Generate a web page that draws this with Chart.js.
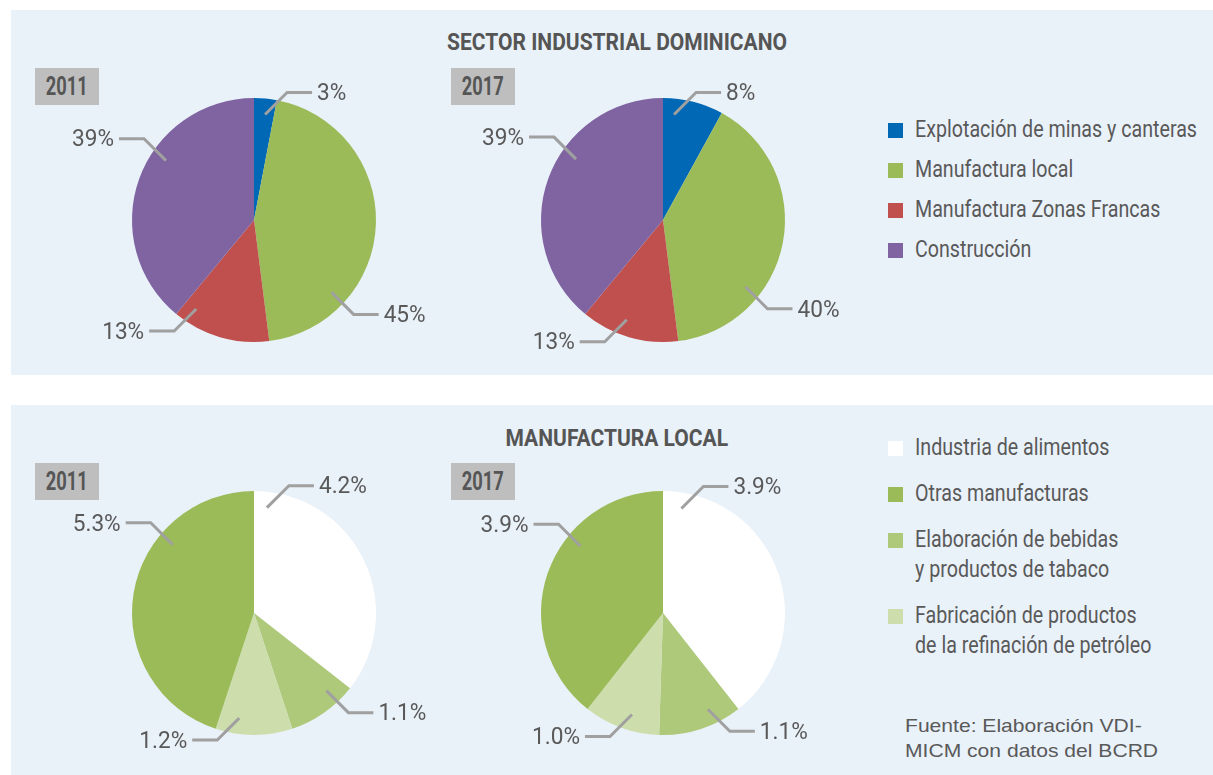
<!DOCTYPE html>
<html>
<head>
<meta charset="utf-8">
<script src="https://cdn.jsdelivr.net/npm/chart.js@4.4.1/dist/chart.umd.min.js"></script>
<style>
  body { margin: 0; width: 1213px; height: 775px; background: #fff; position: relative; overflow: hidden;
         font-family: Roboto, sans-serif; color: #595959; }
  .panel { position: absolute; left: 11px; width: 1202px; background: #e9f1f9; }
  .title { position: absolute; left: 0; width: 1234px; text-align: center; font-weight: bold; font-size: 23px;
           color: #555; white-space: nowrap; }
  .title span, .year span { display: inline-block; }
  .year { position: absolute; width: 64px; height: 37px; background: #bebebf; color: #555; font-weight: bold;
          font-size: 25px; line-height: 38px; text-align: center; }
  canvas { position: absolute; }
  .legend { position: absolute; left: 888px; display: flex; flex-direction: column; }
  .legend .item { display: flex; align-items: flex-start; font-size: 23px; white-space: nowrap; }
  .legend .sw { width: 15px; height: 15px; flex: none; margin-right: 12px; }
  .legend .txt { display: inline-block; transform-origin: 0 50%; }
  .source { position: absolute; left: 905px; top: 713px; font-family: "Liberation Sans", Arial, sans-serif;
            font-size: 19px; line-height: 25px; color: #595959; white-space: nowrap; transform-origin: 0 0; }
</style>
</head>
<body>
<div class="panel" style="top:10px;height:365px"></div>
<div class="panel" style="top:405px;height:370px"></div>

<div class="title" style="top:29px"><span>SECTOR INDUSTRIAL DOMINICANO</span></div>
<div class="title" style="top:425px"><span>MANUFACTURA LOCAL</span></div>

<div class="year" style="left:35px;top:68px"><span>2011</span></div>
<div class="year" style="left:451px;top:68px"><span>2017</span></div>
<div class="year" style="left:35px;top:463px"><span>2011</span></div>
<div class="year" style="left:451px;top:463px"><span>2017</span></div>

<canvas id="sector2011" width="400" height="300" style="left:54px;top:70px"></canvas>
<canvas id="sector2017" width="400" height="300" style="left:463px;top:70px"></canvas>
<canvas id="manuf2011" width="400" height="300" style="left:54px;top:463px"></canvas>
<canvas id="manuf2017" width="400" height="300" style="left:463px;top:463px"></canvas>

<div class="legend" id="sectorLegend" style="top:117px;gap:14px"></div>
<div class="legend" id="manufLegend" style="top:433px;gap:16px"></div>

<div class="source" id="source">Fuente: Elaboración VDI-<br>MICM con datos del BCRD</div>

<script>
// Sector industrial (pie order, clockwise from top)
const sectorLabels = ['Explotación de minas y canteras', 'Manufactura local', 'Manufactura Zonas Francas', 'Construcción'];
const sector2011 = [3, 45, 13, 39];
const sector2017 = [8, 40, 13, 39];
const sectorColors = ['#0068b4', '#9bbb59', '#c0504d', '#8064a2'];

// Manufactura local (pie order, clockwise from top)
const manufLabels = ['Industria de alimentos',
  ['Elaboración de bebidas', 'y productos de tabaco'],
  ['Fabricación de productos', 'de la refinación de petróleo'],
  'Otras manufacturas'];
const manuf2011 = [4.2, 1.1, 1.2, 5.3];
const manuf2017 = [3.9, 1.1, 1.0, 3.9];
const manufColors = ['#ffffff', '#afc97a', '#cddeac', '#9bbb59'];
const manufLegendOrder = [0, 3, 1, 2];

// where each leader line starts (degrees clockwise from 12 o'clock)
const leaderAngles = {
  sector2011: [6, 133, 213, 304],
  sector2017: [6, 129, 200, 305],
  manuf2011: [7, 137, 188, 310],
  manuf2017: [10, 155, 197, 309]
};

// the original uses a condensed face; squeeze Roboto to the same widths
const measure = document.createElement('canvas').getContext('2d');
function textWidth(t, font) {
  measure.font = font;
  return measure.measureText(t).width;
}
const LABEL_FONT = '23px Roboto';
const labelSqueeze = 42 / textWidth('45%', LABEL_FONT);
const legendSqueeze = 282 / textWidth('Explotación de minas y canteras', '23px Roboto');
const titleSqueeze = 340 / textWidth('SECTOR INDUSTRIAL DOMINICANO', 'bold 23px Roboto');
const yearSqueeze = 42 / textWidth('2011', 'bold 25px Roboto');

// Leader-line labels like the Excel original
const leaderPlugin = {
  id: 'leader',
  afterDraw(chart, args, opts) {
    const ctx = chart.ctx;
    const meta = chart.getDatasetMeta(0);
    const vals = chart.data.datasets[0].data;
    ctx.save();
    ctx.strokeStyle = '#a0a0a0';
    ctx.lineWidth = 3;
    ctx.fillStyle = '#595959';
    ctx.font = LABEL_FONT;
    ctx.textBaseline = 'middle';
    meta.data.forEach((arc, i) => {
      const a = opts.angles[i] * Math.PI / 180 - Math.PI / 2;
      const r = arc.outerRadius * 0.87;
      const x0 = arc.x + r * Math.cos(a);
      const y0 = arc.y + r * Math.sin(a);
      const sx = Math.cos(a) >= 0 ? 1 : -1;
      const sy = Math.sin(a) >= 0 ? 1 : -1;
      const x1 = x0 + 22 * sx, y1 = y0 + 22 * sy;
      const x2 = x1 + 25 * sx;
      ctx.beginPath();
      ctx.moveTo(x0, y0);
      ctx.lineTo(x1, y1);
      ctx.lineTo(x2, y1);
      ctx.stroke();
      ctx.save();
      ctx.translate(x2 + 5 * sx, y1 + 2);
      ctx.scale(labelSqueeze, 1);
      ctx.textAlign = sx > 0 ? 'left' : 'right';
      ctx.fillText(vals[i].toFixed(opts.decimals) + '%', 0, 0);
      ctx.restore();
    });
    ctx.restore();
  }
};

function makePie(id, labels, values, colors, decimals) {
  new Chart(document.getElementById(id), {
    type: 'pie',
    data: {
      labels: labels,
      datasets: [{
        data: values,
        backgroundColor: colors,
        borderWidth: 0,
        radius: 122
      }]
    },
    options: {
      responsive: false,
      animation: false,
      plugins: {
        legend: { display: false },
        tooltip: { enabled: false },
        leader: { angles: leaderAngles[id], decimals: decimals }
      }
    },
    plugins: [leaderPlugin]
  });
}

makePie('sector2011', sectorLabels, sector2011, sectorColors, 0);
makePie('sector2017', sectorLabels, sector2017, sectorColors, 0);
makePie('manuf2011', manufLabels, manuf2011, manufColors, 1);
makePie('manuf2017', manufLabels, manuf2017, manufColors, 1);

function buildLegend(elId, labels, colors, order, lh) {
  const box = document.getElementById(elId);
  order.forEach(i => {
    const item = document.createElement('div');
    item.className = 'item';
    const lines = Array.isArray(labels[i]) ? labels[i] : [labels[i]];
    item.style.lineHeight = lh + 'px';
    item.innerHTML = `<span class="sw" style="background:${colors[i]};margin-top:${(lh - 15) / 2}px"></span>` +
      `<span class="txt" style="transform:scaleX(${legendSqueeze})">${lines.join('<br>')}</span>`;
    box.appendChild(item);
  });
}

buildLegend('sectorLegend', sectorLabels, sectorColors, [0, 1, 2, 3], 26);
buildLegend('manufLegend', manufLabels, manufColors, manufLegendOrder, 30);

document.querySelectorAll('.title span').forEach(s => s.style.transform = `scaleX(${titleSqueeze})`);
document.querySelectorAll('.year span').forEach(s => s.style.transform = `scaleX(${yearSqueeze})`);
const src = document.getElementById('source');
src.style.transform = `scaleX(${253 / src.scrollWidth})`;
</script>
</body>
</html>
